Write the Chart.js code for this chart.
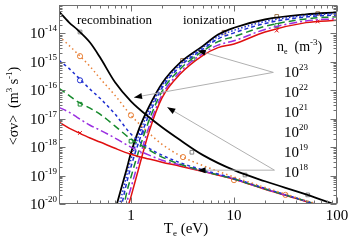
<!DOCTYPE html>
<html>
<head>
<meta charset="utf-8">
<script src="https://cdn.jsdelivr.net/npm/chart.js@4.4.0/dist/chart.umd.min.js"></script>
<style>
  html, body { margin: 0; padding: 0; background: #fff; }
  canvas { display: block; }
</style>
</head>
<body>
<canvas id="rates" width="350" height="242"></canvas>
<script>
// Electron temperature grids (eV)
const recT = [0.2, 0.25, 0.3, 0.4, 0.5, 0.7, 1, 1.5, 2, 3, 5, 10, 20, 50, 100];
const ionT = [0.7, 0.8, 0.9, 1, 1.2, 1.5, 2, 3, 5, 7, 10, 20, 50, 100];

// log10 <sigma v> (m^3 s^-1), recombination, per n_e (m^-3)
const rec23 = [-13.23, -13.61, -13.86, -14.32, -14.84, -15.72, -16.39, -16.95, -17.3, -17.75, -18.28, -18.81, -19.2, -19.66, -20.05];
const rec22 = [-14.1, -14.42, -14.7, -15.16, -15.58, -16.18, -16.88, -17.51, -17.9, -18.3, -18.65, -19.05, -19.42, -19.88, -20.22];
const rec21 = [-14.95, -15.23, -15.51, -15.96, -16.28, -16.84, -17.54, -18.04, -18.28, -18.55, -18.8, -19.1, -19.45, -19.9, -20.24];
const rec20 = [-15.93, -16.18, -16.39, -16.63, -16.84, -17.26, -17.72, -18.1, -18.35, -18.6, -18.84, -19.12, -19.47, -19.9, -20.25];
const rec19 = [-16.6, -16.77, -16.95, -17.23, -17.4, -17.68, -18.0, -18.28, -18.46, -18.63, -18.84, -19.12, -19.47, -19.9, -20.25];
const rec18 = [-17.12, -17.33, -17.47, -17.68, -17.82, -18.04, -18.25, -18.42, -18.53, -18.67, -18.86, -19.13, -19.48, -19.91, -20.26];

// log10 <sigma v>, ionization, per n_e
const ion23 = [-20.23, -19.48, -18.82, -18.2, -17.35, -16.57, -15.76, -15.03, -14.44, -14.04, -13.8, -13.51, -13.33, -13.26];
const ion22 = [-20.65, -19.8, -19.05, -18.43, -17.55, -16.7, -15.84, -15.09, -14.49, -14.11, -13.89, -13.58, -13.37, -13.3];
const ion21 = [-21.12, -20.16, -19.31, -18.69, -17.78, -16.85, -15.92, -15.16, -14.55, -14.19, -13.98, -13.65, -13.42, -13.35];
const ion20 = [-21.75, -20.65, -19.66, -19.05, -18.09, -17.05, -16.04, -15.25, -14.62, -14.29, -14.11, -13.75, -13.49, -13.41];
const ion19 = [-22.45, -21.18, -20.04, -19.43, -18.42, -17.27, -16.17, -15.35, -14.7, -14.41, -14.26, -13.86, -13.56, -13.48];
const ion18 = [-23.0, -21.6, -20.34, -19.74, -18.69, -17.45, -16.27, -15.43, -14.77, -14.5, -14.37, -13.95, -13.62, -13.54];

// open symbols (T, log10 value)
const sqT = [0.32, 3.9, 12.8, 52];
const sqV = [-13.95, -18.18, -18.98, -19.68];
const ionSqT = [3.16, 8, 26, 65];
const ionSqV = [-14.95, -13.96, -13.4, -13.3];
const orT = [0.32, 1, 3.2, 10, 31.6];
const orV = [-14.8, -16.88, -18.35, -19.16, -19.68];
const blT = [0.32, 1.25];
const blV = [-15.65, -17.47];
const grT = [0.32, 1, 4, 26];
const grV = [-16.49, -17.79, -14.9, -13.72];
const rdT = [0.32, 1, 26, 65];
const rdV = [-17.5, -18.2, -13.9, -13.58];

// axis labels
const xTickLabels = [1, 10, 100];
const yTickExps = [-14, -15, -16, -17, -18, -19, -20];
const densityExps = [23, 22, 21, 20, 19, 18];

// gray pointer lines: [T, log10] from label to curve
const noteFrom = [[24.1, -15.37], [24.1, -15.37], [24.7, -18.81], [24.7, -18.81]];
const noteTo = [[4.43, -14.6], [1.07, -16.25], [2.25, -16.6], [4.43, -18.81]];

const serif = '"Liberation Serif", "DejaVu Serif", serif';

const BLACK = '#000000';
const ORANGE = '#e8823a';
const BLUE = '#1f2fd0';
const GREEN = '#168a2c';
const PURPLE = '#9a2ee0';
const RED = '#e01010';

function pts(T, logs) {
  return T.map((t, i) => ({ x: t, y: Math.pow(10, logs[i]) }));
}

function line(T, logs, color, dash, width) {
  return {
    type: 'line',
    data: pts(T, logs),
    borderColor: color,
    borderWidth: width || 1.5,
    borderDash: dash || [],
    pointRadius: 0,
    cubicInterpolationMode: 'monotone',
    fill: false
  };
}

function marks(T, logs, color, style) {
  return {
    type: 'scatter',
    data: pts(T, logs),
    showLine: false,
    pointStyle: style,
    pointRadius: 2.6,
    borderWidth: 1,
    borderColor: color,
    backgroundColor: 'rgba(0,0,0,0)'
  };
}

const datasets = [
  line(recT, rec23, BLACK, [], 1.8),
  line(recT, rec22, ORANGE, [1.5, 3]),
  line(recT, rec21, BLUE, [3, 3]),
  line(recT, rec20, GREEN, [7, 4]),
  line(recT, rec19, PURPLE, [8, 3, 2, 3]),
  line(recT, rec18, RED, []),
  line(ionT, ion18, RED, []),
  line(ionT, ion19, PURPLE, [8, 3, 2, 3]),
  line(ionT, ion20, GREEN, [7, 4]),
  line(ionT, ion21, BLUE, [4, 3]),
  line(ionT, ion22, BLUE, [1.5, 2]),
  line(ionT, ion23, BLACK, [], 1.8),
  marks(sqT, sqV, '#888', 'rect'),
  marks(ionSqT, ionSqV, '#a07850', 'rect'),
  marks(orT, orV, ORANGE, 'circle'),
  marks(blT, blV, BLUE, 'circle'),
  marks(grT, grV, GREEN, 'rect'),
  marks(rdT, rdV, RED, 'crossRot')
];

// text with raised / lowered pieces: [text, sizePx, dy]
function drawRich(ctx, parts, x, y) {
  let cx = x;
  parts.forEach(([t, size, dy]) => {
    ctx.font = `${size}px ${serif}`;
    ctx.fillText(t, cx, y + dy);
    cx += ctx.measureText(t).width;
  });
  return cx - x;
}

function richWidth(ctx, parts) {
  let w = 0;
  parts.forEach(([t, size]) => {
    ctx.font = `${size}px ${serif}`;
    w += ctx.measureText(t).width;
  });
  return w;
}

const framePlugin = {
  id: 'frame',
  afterDatasetsDraw(chart) {
    const { ctx, chartArea: a, scales: { x, y } } = chart;
    ctx.save();
    ctx.strokeStyle = '#707070';
    ctx.lineWidth = 1;
    const L = Math.round(a.left) + 0.5, R = Math.round(a.right) - 0.5;
    const T = Math.round(a.top) + 0.5, B = Math.round(a.bottom) - 0.5;
    ctx.strokeRect(L, T, R - L, B - T);

    ctx.beginPath();
    // x ticks, inward, top and bottom
    for (let e = -1; e <= 2; e++) {
      for (let m = 1; m <= 9; m++) {
        const v = m * Math.pow(10, e);
        if (v < 0.2 - 1e-9 || v > 100 + 1e-9) continue;
        const px = Math.round(x.getPixelForValue(v)) + 0.5;
        const len = m === 1 ? 6 : 3;
        ctx.moveTo(px, B); ctx.lineTo(px, B - len);
        ctx.moveTo(px, T); ctx.lineTo(px, T + len);
      }
    }
    // y ticks, inward, left and right
    for (let e = -20; e <= -14; e++) {
      for (let m = 1; m <= 9; m++) {
        const v = m * Math.pow(10, e);
        const py = Math.round(y.getPixelForValue(v)) + 0.5;
        const len = m === 1 ? 6 : 3;
        ctx.moveTo(L, py); ctx.lineTo(L + len, py);
        ctx.moveTo(R, py); ctx.lineTo(R - len, py);
      }
    }
    ctx.stroke();

    // pointer lines and arrowheads
    ctx.strokeStyle = '#b0b0b0';
    ctx.fillStyle = '#000';
    noteFrom.forEach((f, i) => {
      const x0 = x.getPixelForValue(f[0]), y0 = y.getPixelForValue(Math.pow(10, f[1]));
      const x1 = x.getPixelForValue(noteTo[i][0]), y1 = y.getPixelForValue(Math.pow(10, noteTo[i][1]));
      ctx.beginPath();
      ctx.moveTo(x0, y0); ctx.lineTo(x1, y1);
      ctx.stroke();
      const ang = Math.atan2(y1 - y0, x1 - x0);
      ctx.beginPath();
      ctx.moveTo(x1, y1);
      ctx.lineTo(x1 - 8 * Math.cos(ang) + 3 * Math.sin(ang), y1 - 8 * Math.sin(ang) - 3 * Math.cos(ang));
      ctx.lineTo(x1 - 8 * Math.cos(ang) - 3 * Math.sin(ang), y1 - 8 * Math.sin(ang) + 3 * Math.cos(ang));
      ctx.closePath();
      ctx.fill();
    });
    ctx.restore();
  },
  afterDraw(chart) {
    const { ctx, chartArea: a, scales: { x, y } } = chart;
    ctx.save();
    ctx.fillStyle = '#000';
    ctx.textBaseline = 'alphabetic';

    // y tick labels 10^n
    yTickExps.forEach(e => {
      const py = y.getPixelForValue(Math.pow(10, e));
      const parts = [['10', 15, 0], [String(e), 9, -7]];
      const w = richWidth(ctx, parts);
      ctx.textAlign = 'left';
      drawRich(ctx, parts, a.left - 2 - w, py + 5);
    });

    // x tick labels
    ctx.font = `15px ${serif}`;
    ctx.textAlign = 'center';
    xTickLabels.forEach(v => {
      ctx.fillText(String(v), x.getPixelForValue(v), a.bottom + 16);
    });

    // x title
    ctx.textAlign = 'left';
    const xt = [['T', 15, 0], ['e', 9, 3], [' (eV)', 15, 0]];
    drawRich(ctx, xt, 186 - richWidth(ctx, xt) / 2, a.bottom + 29);

    // y title, rotated
    ctx.save();
    ctx.translate(18, 106);
    ctx.rotate(-Math.PI / 2);
    const yt = [['<\u03c3v>  (m', 14, 0], ['3', 9, -6], [' s', 14, 0], ['-1', 9, -6], [')', 14, 0]];
    drawRich(ctx, yt, -richWidth(ctx, yt) / 2, 0);
    ctx.restore();

    // curve family labels
    ctx.font = `13px ${serif}`;
    ctx.fillText('recombination', 77, 24);
    ctx.fillText('ionization', 183, 24);

    // density legend
    drawRich(ctx, [['n', 14, 0], ['e', 8, 3], ['  (m', 14, 0], ['-3', 9, -6], [')', 14, 0]], 277, 51);
    densityExps.forEach((d, i) => {
      drawRich(ctx, [['10', 15, 0], [String(d), 9, -7]], 284, 77 + i * 20);
    });
    ctx.restore();
  }
};

new Chart(document.getElementById('rates'), {
  type: 'line',
  data: { datasets },
  options: {
    responsive: false,
    animation: false,
    devicePixelRatio: 1,
    layout: { padding: { left: 0, right: 13, top: 5, bottom: 0 } },
    plugins: { legend: { display: false }, tooltip: { enabled: false } },
    scales: {
      x: {
        type: 'logarithmic', min: 0.2, max: 100,
        ticks: { display: false }, grid: { display: false, drawTicks: false }, border: { display: false },
        afterFit: (s) => { s.height = 38; }
      },
      y: {
        type: 'logarithmic', min: 1e-20, max: 1e-13,
        ticks: { display: false }, grid: { display: false, drawTicks: false }, border: { display: false },
        afterFit: (s) => { s.width = 59; }
      }
    }
  },
  plugins: [framePlugin]
});
</script>
</body>
</html>
